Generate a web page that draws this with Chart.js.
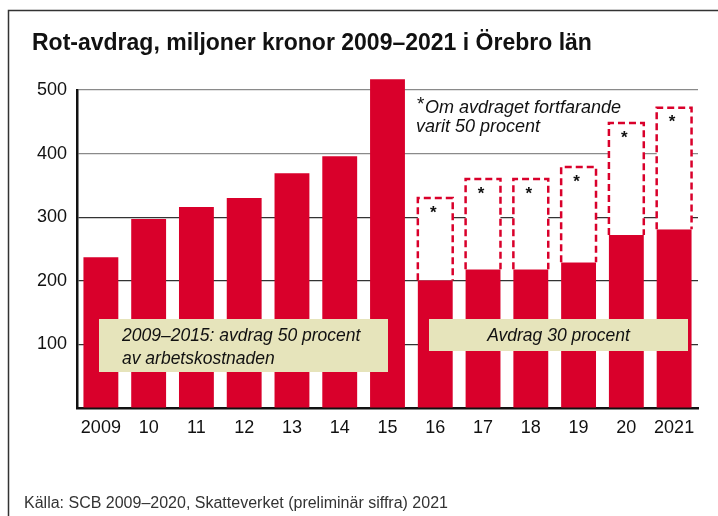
<!DOCTYPE html>
<html>
<head>
<meta charset="utf-8">
<script src="https://cdn.jsdelivr.net/npm/chart.js@4.4.1/dist/chart.umd.min.js"></script>
<style>
  html, body { margin: 0; padding: 0; background: #fff; }
  #wrap { width: 718px; height: 516px; }
</style>
</head>
<body>
<div id="wrap"><canvas id="chart" width="718" height="516"></canvas></div>
<script>
// Rot-avdrag per år (miljoner kronor)
const years = ['2009', '10', '11', '12', '13', '14', '15', '16', '17', '18', '19', '20', '2021'];
const avdrag = [237, 297, 316, 330, 369, 396, 517, 201, 218, 218, 229, 272, 281];
// om avdraget fortfarande varit 50 procent
const vid50 = [null, null, null, null, null, null, null, 330, 360, 360, 379, 448, 472];
const yTicks = [100, 200, 300, 400, 500];

const RED = '#d9002b';
const BEIGE = '#e6e4bb';
const FONT = '"Liberation Sans", Arial, sans-serif';

function noteBox(ctx, x, y, w, h, lines, align) {
    ctx.fillStyle = BEIGE;
    ctx.fillRect(x, y, w, h);
    ctx.fillStyle = '#111';
    ctx.font = 'italic 17.5px ' + FONT;
    ctx.textBaseline = 'middle';
    ctx.textAlign = align;
    lines.forEach((t, i) => {
        const tx = align === 'center' ? x + w / 2 : x + 23;
        ctx.fillText(t, tx, y + 17 + i * 23);
    });
}

const extras = {
    id: 'extras',
    afterDatasetsDraw(chart) {
        const ctx = chart.ctx;
        const meta = chart.getDatasetMeta(0);
        const y = chart.scales.y;
        ctx.save();
        // dashed boxes: what the deduction would have been at 50 percent
        vid50.forEach((v, i) => {
            if (v == null) return;
            const el = meta.data[i];
            const left = el.x - el.width / 2;
            const right = el.x + el.width / 2;
            const top = y.getPixelForValue(v);
            const bottom = y.getPixelForValue(avdrag[i]);
            ctx.fillStyle = '#fff';
            ctx.fillRect(left, top, right - left, bottom - top);
            ctx.strokeStyle = RED;
            ctx.lineWidth = 2.5;
            ctx.setLineDash([7, 4]);
            ctx.beginPath();
            ctx.moveTo(left, bottom);
            ctx.lineTo(left, top);
            ctx.lineTo(right, top);
            ctx.lineTo(right, bottom);
            ctx.stroke();
            ctx.setLineDash([]);
            ctx.fillStyle = '#111';
            ctx.font = 'bold 17px ' + FONT;
            ctx.textAlign = 'center';
            ctx.textBaseline = 'middle';
            ctx.fillText('*', el.x - 2, top + 15);
        });

        noteBox(ctx, 99, 319, 289, 53, ['2009\u20132015: avdrag 50 procent', 'av arbetskostnaden'], 'left');
        noteBox(ctx, 429, 319, 259, 32, ['Avdrag 30 procent'], 'center');

        // footnote for the star
        ctx.fillStyle = '#111';
        ctx.textAlign = 'left';
        ctx.textBaseline = 'middle';
        ctx.font = '19px ' + FONT;
        ctx.fillText('*', 417, 105);
        ctx.font = 'italic 18px ' + FONT;
        ctx.fillText('Om avdraget fortfarande', 425, 108);
        ctx.fillText('varit 50 procent', 416, 127);
        ctx.restore();
    },
    afterDraw(chart) {
        const ctx = chart.ctx;
        ctx.save();
        // frame
        ctx.strokeStyle = '#333';
        ctx.lineWidth = 1.5;
        ctx.beginPath();
        ctx.moveTo(8.5, 516);
        ctx.lineTo(8.5, 10.5);
        ctx.lineTo(718, 10.5);
        ctx.stroke();
        // title
        ctx.fillStyle = '#111';
        ctx.textAlign = 'left';
        ctx.textBaseline = 'alphabetic';
        ctx.font = 'bold 23px ' + FONT;
        ctx.fillText('Rot-avdrag, miljoner kronor 2009\u20132021 i \u00d6rebro l\u00e4n', 32, 50);
        // source
        ctx.font = '16px ' + FONT;
        ctx.fillStyle = '#333';
        ctx.fillText('K\u00e4lla: SCB 2009\u20132020, Skatteverket (prelimin\u00e4r siffra) 2021', 24, 508);
        ctx.restore();
    }
};

const ctx = document.getElementById('chart').getContext('2d');
const chart = new Chart(ctx, {
    type: 'bar',
    data: {
        labels: years,
        datasets: [{
            label: 'Rot-avdrag',
            data: avdrag,
            backgroundColor: RED,
            borderWidth: 0,
            barPercentage: 0.73,
            categoryPercentage: 1,
            clip: false
        }]
    },
    options: {
        responsive: false,
        animation: false,
        layout: { padding: { top: 90, right: 20, left: 0, bottom: 0 } },
        plugins: {
            legend: { display: false },
            tooltip: { enabled: false },
            title: { display: false }
        },
        scales: {
            x: {
                grid: { display: false, drawTicks: false },
                border: { color: '#111', width: 2.5 },
                ticks: { color: '#111', font: { family: FONT, size: 18 }, padding: 9, maxRotation: 0, autoSkip: false },
                afterFit: s => { s.height = 108; }
            },
            y: {
                min: 0,
                max: 500,
                afterBuildTicks: s => { s.ticks = [0].concat(yTicks).map(v => ({ value: v })); },
                grid: {
                    drawTicks: false,
                    lineWidth: 1.2,
                    color: c => c.tick.value >= 400 ? '#8a8a8a' : '#333'
                },
                border: { color: '#111', width: 2.5 },
                ticks: {
                    color: '#111',
                    font: { family: FONT, size: 18 },
                    padding: 10,
                    callback: v => v === 0 ? '' : v
                },
                afterFit: s => { s.width = 77; }
            }
        }
    },
    plugins: [extras]
});
</script>
</body>
</html>
